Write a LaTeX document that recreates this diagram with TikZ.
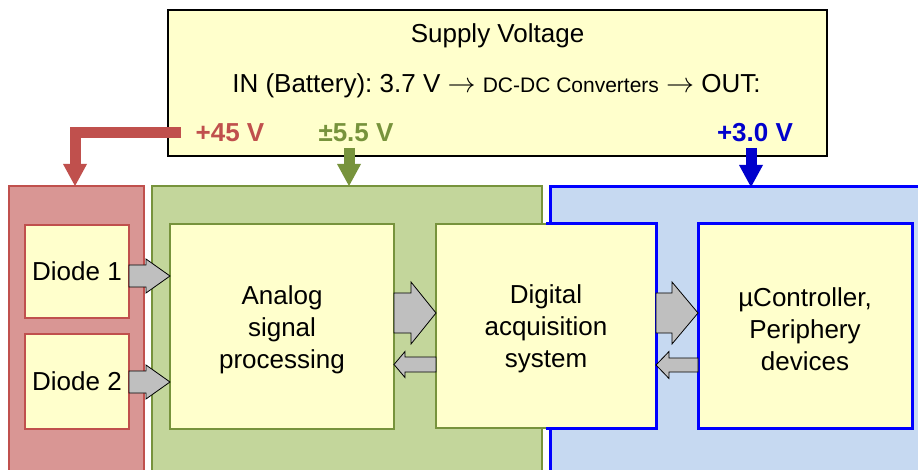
\documentclass[tikz,border=0pt]{standalone}
\usepackage{graphicx}
\usepackage{fontspec}
\setmainfont{Liberation Sans}
\frenchspacing
\usetikzlibrary{arrows.meta,calc}
\definecolor{redF}{HTML}{D99694}
\definecolor{redB}{HTML}{C0504D}
\definecolor{grnF}{HTML}{C3D69B}
\definecolor{grnB}{HTML}{77933C}
\definecolor{bluF}{HTML}{C6D9F1}
\definecolor{bluB}{HTML}{0000FF}
\definecolor{bluL}{HTML}{0000CC}
\definecolor{yel}{HTML}{FFFFCC}
\definecolor{gry}{HTML}{BFBFBF}
\newcommand\blockarr[5]{%
  \draw[blockarrow] let \p1=#1, \p2=#2, \n1={sign(\x2-\x1)} in
  (\x1,{\y1+#3}) -- ({\x2-\n1*#5},{\y1+#3}) -- ({\x2-\n1*#5},{\y1+#4}) -- (\x2,\y1)
  -- ({\x2-\n1*#5},{\y1-#4}) -- ({\x2-\n1*#5},{\y1-#3}) -- (\x1,{\y1-#3}) -- cycle;}
\newcommand\tallstrut{\rule{0pt}{25pt}}
\newcommand\bigto{\resizebox{28pt}{!}{$\rightarrow$}}
\begin{document}
\begin{tikzpicture}[x=1pt,y=-1pt,
  font=\fontsize{26}{32}\selectfont,
  region/.style={inner sep=0pt, outer sep=0pt, anchor=north west, minimum height=300pt},
  box/.style={fill=yel, line width=2pt, inner sep=0pt, outer sep=0pt, align=center},
  blockarrow/.style={fill=gry, draw=black, line width=0.8pt, line join=miter},
  supply/.style={line width=11pt, -{Triangle[width=24pt,length=22pt,line width=0pt]}},
  lbl/.style={anchor=base, font=\fontsize{26}{32}\selectfont\bfseries}]
\useasboundingbox (0,0) rectangle (918,470);
\clip (0,0) rectangle (918,470);
% regions
\node[region, fill=redF, draw=redB, line width=2pt, minimum width=135pt] (R) at (9,186) {};
\node[region, fill=grnF, draw=grnB, line width=2pt, minimum width=390pt] (G) at (152,186) {};
\node[region, fill=bluF, draw=bluB, line width=3pt, minimum width=400pt] (B) at (550,187) {};
% supply box
\node[draw=black, fill=yel, line width=2pt, inner sep=0pt, outer sep=0pt,
      minimum width=659pt, minimum height=146pt] (sup) at (497.5,83) {};
\node[anchor=base] (t1) at (497.5,43) {Supply Voltage};
\node[anchor=base] (t2) at (496.5,93) {IN (Battery): 3.7 V \bigto\ {\fontsize{21}{25}\selectfont DC-DC Converters} \bigto\ OUT:};
\node[lbl, text=redB] (l1) at (230,142) {+45 V};
\node[lbl, text=grnB] (l2) at (356,142) {±5.5 V};
\node[lbl, text=bluL] (l3) at (755,142) {+3.0 V};
% supply arrows
\coordinate (rs) at (181,132.5);
\coordinate (gs) at (349,148);
\coordinate (bs) at (751,148);
\draw[supply, draw=redB] (rs) -| ([xshift=-1.5pt]R.north);
\draw[supply, draw=grnB] (gs) -- (gs |- G.north);
\draw[supply, draw=bluL] (bs) -- (bs |- B.north);
% boxes
\node[box, draw=redB, minimum width=104pt, minimum height=93pt] (d1) at (77,271.5) {Diode 1};
\node[box, draw=redB, minimum width=104pt, minimum height=95pt] (d2) at (77,381.5) {Diode 2};
\node[box, draw=grnB, minimum width=224pt, minimum height=205pt] (an) at (282,326.5) {\tallstrut Analog\\signal\\processing};
\node[box, minimum width=220pt, minimum height=204pt] (dg) at (546,326) {\tallstrut Digital\\acquisition\\system};
\draw[grnB, line width=2pt] (dg.north) -| (dg.west) |- (dg.south);
\draw[bluB, line width=3pt] (dg.north) -| (dg.east) |- (dg.south);
\node[box, draw=bluB, line width=3pt, minimum width=214pt, minimum height=204pt] (uc) at (805,326) {\tallstrut µController,\\Periphery\\devices};
% block arrows
\blockarr{([yshift=-4.5pt]d1.east)}{(an.west)}{11pt}{17pt}{24pt}
\blockarr{([yshift=-0.5pt]d2.east)}{(an.west)}{11pt}{17pt}{24pt}
\blockarr{([yshift=13.5pt]an.east)}{(dg.west)}{20pt}{31pt}{25pt}
\blockarr{([yshift=-38.5pt]dg.west)}{(an.east)}{7.5pt}{13pt}{11pt}
\blockarr{([yshift=13pt]dg.east)}{(uc.west)}{20pt}{31pt}{26pt}
\blockarr{([yshift=-39pt]uc.west)}{(dg.east)}{7pt}{13.5pt}{13pt}
\end{tikzpicture}
\end{document}
